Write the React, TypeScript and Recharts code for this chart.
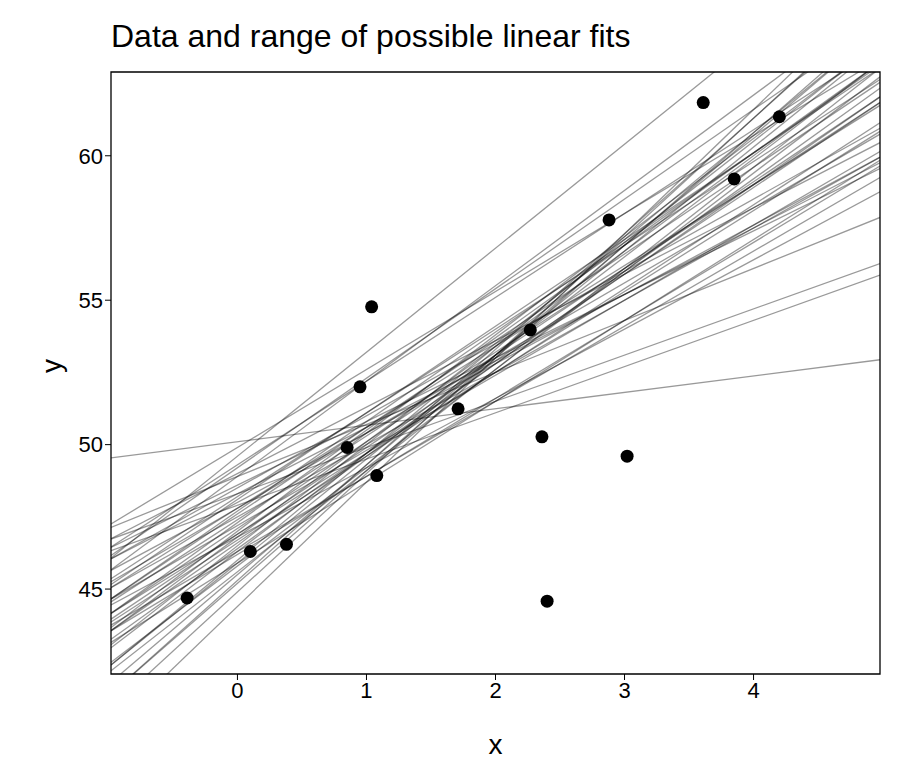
import { ComposedChart, Line, Scatter, XAxis, YAxis, ReferenceArea } from 'recharts';

const pointX = [-0.39, 0.1, 0.38, 0.85, 0.95, 1.04, 1.08, 1.71, 2.27, 2.36, 2.4, 2.88, 3.02, 3.61, 3.85, 4.2];
const pointY = [44.69, 46.3, 46.55, 49.9, 52.0, 54.77, 48.93, 51.24, 53.97, 50.27, 44.58, 57.78, 49.6, 61.84, 59.2, 61.35];

const intercepts = [50.1, 47.9, 48.3, 48.9, 48.3, 47.5, 48.0, 47.2, 47.8, 46.9, 47.4, 49.9, 47.1, 47.6, 46.6, 48.2, 47.3, 46.8, 47.7, 46.3, 47.0, 45.9, 46.5, 45.5, 44.9, 44.4, 45.2, 49.3, 46.9, 48.5, 48.6, 46.2, 46.4, 45.8, 47.8, 48.1, 46.0, 46.3, 46.7, 45.6, 49.2, 46.8, 49.0, 45.3, 45.9, 48.9, 49.6];
const slopes = [0.57, 1.6, 1.6, 1.8, 2.3, 2.5, 2.4, 2.6, 2.6, 2.8, 2.9, 2.7, 3.0, 3.0, 3.1, 2.9, 3.2, 3.3, 3.1, 3.4, 3.4, 3.6, 3.5, 3.8, 4.1, 4.3, 3.9, 2.9, 3.0, 2.5, 2.2, 2.7, 3.2, 3.4, 2.8, 3.0, 3.7, 2.6, 2.9, 3.5, 3.1, 2.4, 2.3, 4.0, 2.8, 3.3, 3.6];

const X_MIN = -0.98;
const X_MAX = 4.98;
const Y_MIN = 42.06;
const Y_MAX = 62.9;

const points = pointX.map((x, i) => ({ x, y: pointY[i] }));
const fits = intercepts.map((a, i) => [
  { x: X_MIN, y: a + slopes[i] * X_MIN },
  { x: X_MAX, y: a + slopes[i] * X_MAX },
]);

const font = 'Liberation Sans, Arial, sans-serif';

export default function App() {
  return (
    <div style={{ position: 'relative', width: 900, height: 780, fontFamily: font }}>
      <div style={{ position: 'absolute', left: 103, top: 10, fontSize: 32, color: '#000' }}>
        Data and range of possible linear fits
      </div>
      <ComposedChart width={900} height={780} margin={{ top: 64, right: 28, left: 43, bottom: 30 }}>
        <XAxis
          dataKey="x"
          type="number"
          domain={[X_MIN, X_MAX]}
          allowDataOverflow
          ticks={[0, 1, 2, 3, 4]}
          height={84}
          axisLine={false}
          tickSize={6}
          tickLine={{ stroke: '#000' }}
          tick={{ fill: '#000', fontSize: 22, fontFamily: font }}
          label={{ value: 'x', position: 'insideBottom', offset: 4, fill: '#000', fontSize: 28, fontFamily: font }}
        />
        <YAxis
          type="number"
          domain={[Y_MIN, Y_MAX]}
          allowDataOverflow
          ticks={[45, 50, 55, 60]}
          width={60}
          axisLine={false}
          tickSize={6}
          tickLine={{ stroke: '#000' }}
          tick={{ fill: '#000', fontSize: 22, fontFamily: font }}
          label={{ value: 'y', angle: -90, position: 'insideLeft', offset: 0, fill: '#000', fontSize: 28, fontFamily: font }}
        />
        {fits.map((d, i) => (
          <Line
            key={i}
            data={d}
            dataKey="y"
            type="linear"
            stroke="#000"
            strokeOpacity={0.4}
            strokeWidth={1.3}
            dot={false}
            activeDot={false}
            isAnimationActive={false}
          />
        ))}
        <Scatter data={points} dataKey="y" fill="#000" isAnimationActive={false}
          shape={(p: any) => <circle cx={p.cx} cy={p.cy} r={6.5} fill="#000" />} />
        <ReferenceArea x1={X_MIN} x2={X_MAX} y1={Y_MIN} y2={Y_MAX} fill="none" stroke="#000" strokeWidth={1.3} ifOverflow="visible" />
      </ComposedChart>
    </div>
  );
}
